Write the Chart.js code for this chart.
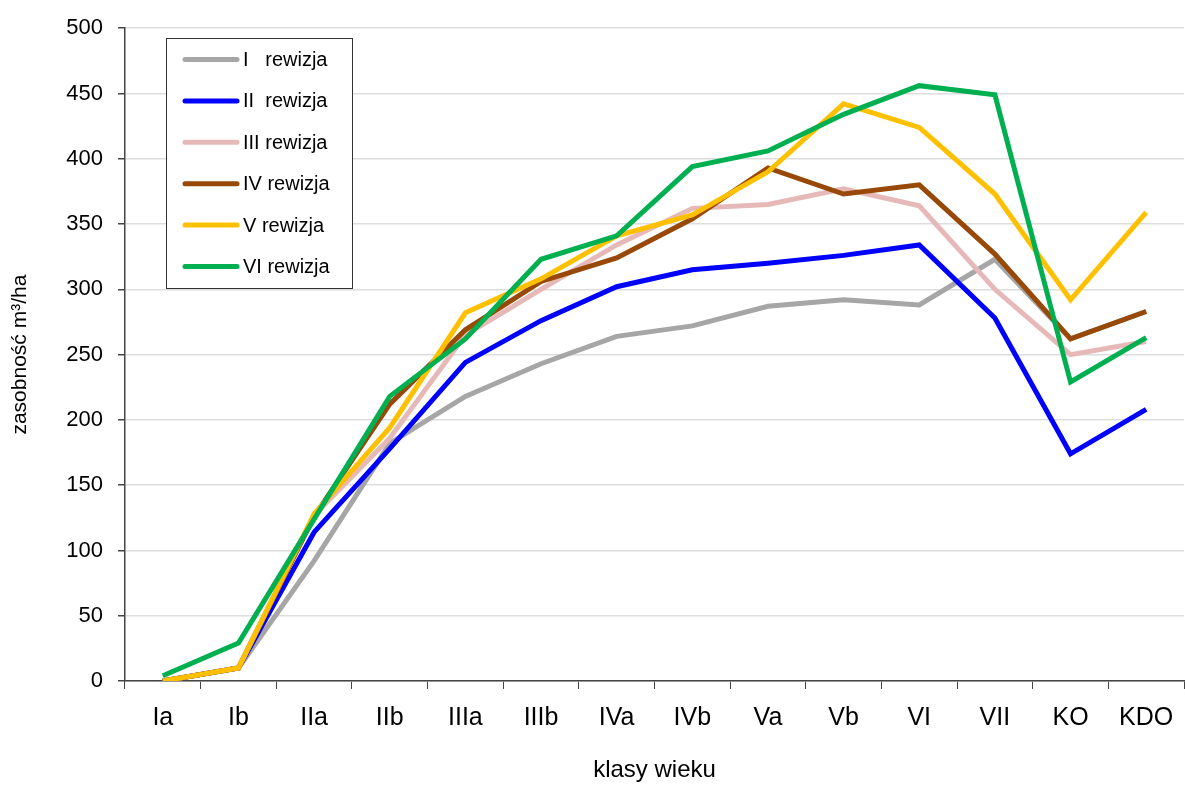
<!DOCTYPE html>
<html>
<head>
<meta charset="utf-8">
<script src="https://cdn.jsdelivr.net/npm/chart.js@4"></script>
<style>
  html, body { margin: 0; padding: 0; background: #fff; }
</style>
</head>
<body>
<canvas id="chart" width="1185" height="785"></canvas>
<script>
// --- Daten ---
const klasy = ["Ia", "Ib", "IIa", "IIb", "IIIa", "IIIb", "IVa", "IVb", "Va", "Vb", "VI", "VII", "KO", "KDO"];
const rewizja1 = [0, 10, 92, 182, 218, 243, 264, 272, 287, 292, 288, 323, 262, 283];
const rewizja2 = [0, 10, 114, 178, 244, 276, 302, 315, 320, 326, 334, 278, 174, 208];
const rewizja3 = [0, 10, 127, 186, 265, 300, 334, 362, 365, 377, 364, 300, 250, 260];
const rewizja4 = [0, 10, 126, 212, 269, 306, 324, 354, 393, 373, 380, 327, 262, 283];
const rewizja5 = [0, 10, 128, 194, 282, 308, 341, 357, 390, 442, 424, 373, 292, 359];
const rewizja6 = [4, 29, 124, 218, 262, 323, 341, 394, 406, 434, 456, 449, 229, 263];
const nazwy = ["I   rewizja", "II  rewizja", "III rewizja", "IV rewizja", "V rewizja", "VI rewizja"];
const kolory = ["#A6A6A6", "#0000FF", "#E6B9B8", "#984807", "#FFC000", "#00B050"];

const serie = [rewizja1, rewizja2, rewizja3, rewizja4, rewizja5, rewizja6];

// --- Legende im Diagramm (Kasten oben links) ---
const boxLegend = {
    id: "boxLegend",
    afterDraw(chart) {
        const ctx = chart.ctx;
        ctx.save();
        ctx.fillStyle = "#fff";
        ctx.fillRect(166, 38, 186, 250);
        ctx.strokeStyle = "#333";
        ctx.lineWidth = 1;
        ctx.strokeRect(166.5, 38.5, 186, 250);
        ctx.font = "20px 'Liberation Sans', Arial, sans-serif";
        ctx.textBaseline = "middle";
        chart.data.datasets.forEach((ds, i) => {
            const y = 59.5 + i * 41.4;
            ctx.strokeStyle = ds.borderColor;
            ctx.lineWidth = 5;
            ctx.lineCap = "round";
            ctx.beginPath();
            ctx.moveTo(185, y);
            ctx.lineTo(237, y);
            ctx.stroke();
            ctx.fillStyle = "#000";
            ctx.fillText(ds.label, 243, y + 1);
        });
        ctx.restore();
    },
};

const ctx = document.getElementById("chart").getContext("2d");

const chart = new Chart(ctx, {
    type: "line",
    data: {
        labels: klasy,
        datasets: serie.map((d, i) => ({
            label: nazwy[i],
            data: d,
            borderColor: kolory[i],
            backgroundColor: kolory[i],
            borderWidth: 5,
            pointRadius: 0,
            tension: 0,
            order: 6 - i,
        })),
    },
    options: {
        responsive: false,
        animation: false,
        devicePixelRatio: 1,
        layout: { padding: { top: 25, right: 1, bottom: 0, left: 0 } },
        plugins: {
            legend: { display: false },
            tooltip: { enabled: false },
        },
        scales: {
            x: {
                offset: true,
                grid: {
                    offset: true,
                    drawOnChartArea: false,
                    drawTicks: true,
                    tickLength: 8,
                    tickColor: "#444",
                },
                border: { color: "#444", width: 1.5 },
                ticks: {
                    color: "#000",
                    padding: 14,
                    maxRotation: 0,
                    autoSkip: false,
                    font: { family: "'Liberation Sans', Arial, sans-serif", size: 25 },
                },
                title: {
                    display: true,
                    text: "klasy wieku",
                    color: "#000",
                    padding: { top: 0, bottom: 0 },
                    font: { family: "'Liberation Sans', Arial, sans-serif", size: 24 },
                },
                afterFit(scale) {
                    scale.height = 104;
                    scale.paddingLeft = 0;
                    scale.paddingRight = 0;
                },
            },
            y: {
                min: 0,
                max: 500,
                grid: {
                    color: "#DDDDDD",
                    lineWidth: 1.5,
                    drawTicks: true,
                    tickLength: 7,
                    tickColor: "#444",
                },
                border: { color: "#444", width: 1.5 },
                ticks: {
                    stepSize: 50,
                    color: "#000",
                    padding: 15,
                    font: { family: "'Liberation Sans', Arial, sans-serif", size: 22 },
                },
                title: {
                    display: true,
                    text: "zasobność m³/ha",
                    color: "#000",
                    padding: { top: 8, bottom: 0 },
                    font: { family: "'Liberation Sans', Arial, sans-serif", size: 21 },
                },
                afterFit(scale) { scale.width = 125; },
            },
        },
    },
    plugins: [boxLegend],
});
</script>
</body>
</html>
